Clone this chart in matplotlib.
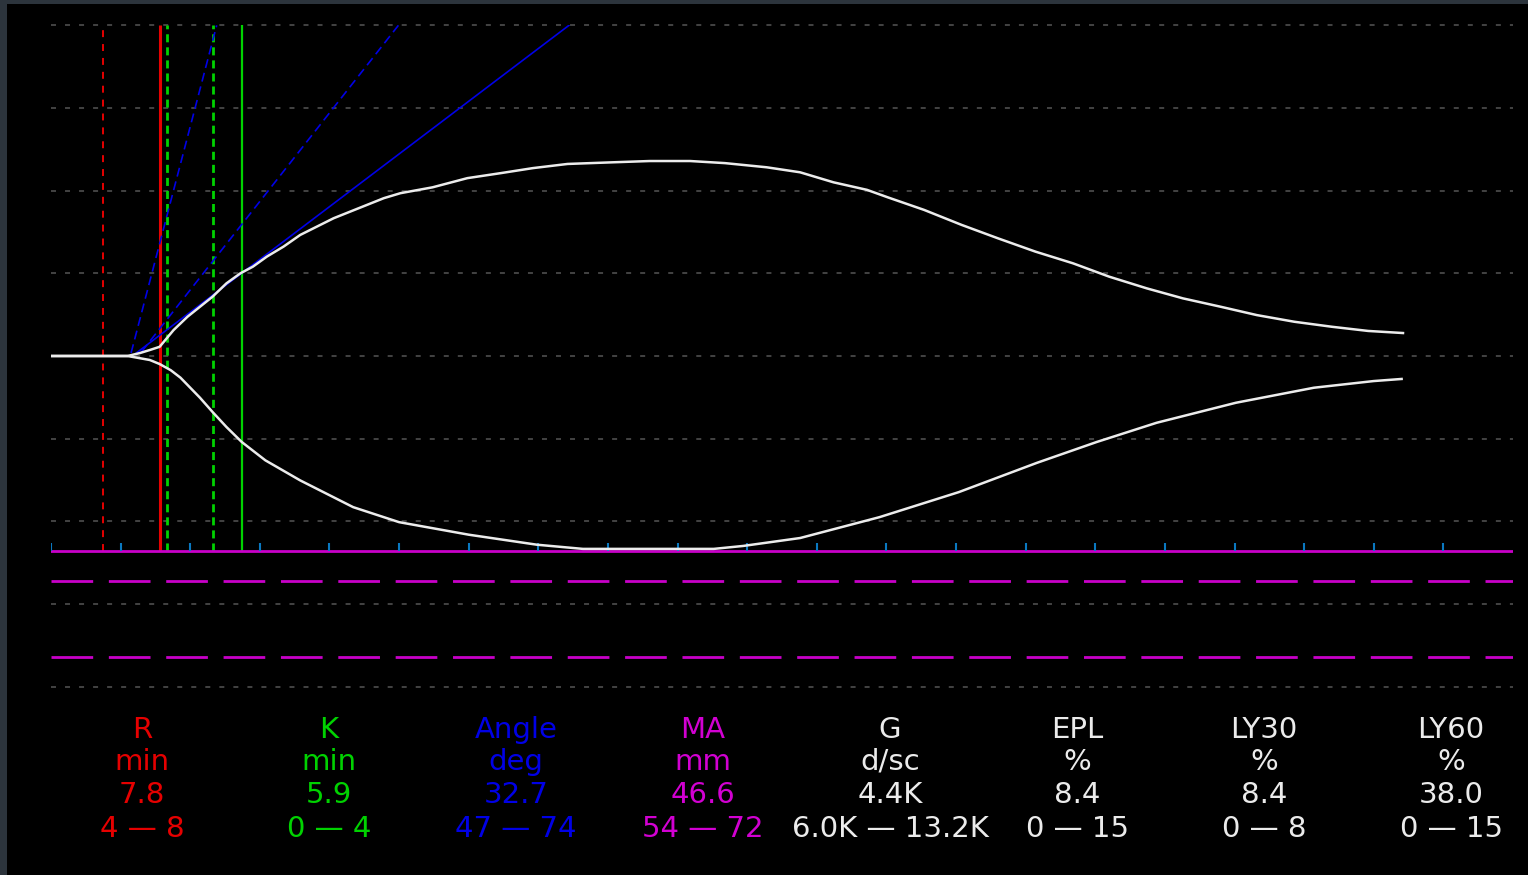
import numpy as np
import matplotlib.pyplot as plt
from matplotlib.patches import Rectangle

plt.rcParams['lines.scale_dashes'] = False

# tracing: time (min) and half amplitude (mm), upper and lower branch
up_t = [0, 5.5, 6.4, 7.1, 7.8, 8.8, 9.8, 10.7, 11.6, 12.6, 13.6, 14.5, 15.5, 16.7, 17.9,
        19.1, 20.3, 21.5, 22.7, 23.9, 25.1, 27.4, 29.9, 32.3, 34.6, 37.1, 40.4, 43.0,
        45.9, 48.4, 51.4, 53.8, 56.2, 58.6, 60.1, 62.7, 65.4, 68.0, 70.7, 73.4, 76.0,
        78.7, 81.3, 84.0, 86.6, 89.3, 92.0, 94.6, 97.1]
up_a = [0, 0, 0.36, 0.72, 1.1, 3.1, 4.7, 5.9, 7.1, 8.7, 9.9, 10.7, 11.9, 13.1, 14.5,
        15.5, 16.5, 17.3, 18.1, 18.9, 19.5, 20.2, 21.3, 21.9, 22.5, 23.0, 23.2, 23.35,
        23.35, 23.1, 22.6, 22.0, 20.8, 19.9, 19.0, 17.5, 15.7, 14.1, 12.5, 11.1, 9.5,
        8.1, 6.9, 5.9, 4.9, 4.1, 3.5, 3.0, 2.75]
lo_t = [0, 5.5, 7.1, 7.8, 8.6, 9.3, 10.0, 10.7, 11.6, 12.6, 13.7, 15.4, 17.9, 21.7,
        25.0, 30.0, 34.9, 38.2, 47.6, 49.7, 53.8, 59.5, 65.2, 70.8, 75.1, 79.4, 85.1,
        90.7, 95.0, 97.0]
lo_a = [0, 0, 0.48, 0.96, 1.7, 2.6, 3.8, 5.0, 6.7, 8.5, 10.3, 12.5, 14.9, 18.1,
        19.9, 21.4, 22.6, 23.1, 23.1, 22.75, 21.8, 19.3, 16.3, 12.8, 10.3, 8.0, 5.6,
        3.8, 3.0, 2.75]

# results
R = 7.8
K = 5.9
MA = 46.6
ma_range = [54, 72]
r_dashed = [3.7]
k_dashed = [8.3, 11.6]

# angle lines: [times], [amplitudes]
angle_solid = [[6.0, 37.2], [0.2, 39.6]]
angle_dash1 = [[5.75, 11.9], [0.36, 39.6]]
angle_dash2 = [[6.5, 24.95], [0.5, 39.6]]

names = ['R', 'K', 'Angle', 'MA', 'G', 'EPL', 'LY30', 'LY60']
units = ['min', 'min', 'deg', 'mm', 'd/sc', '%', '%', '%']
values = ['7.8', '5.9', '32.7', '46.6', '4.4K', '8.4', '8.4', '38.0']
ranges = ['4 — 8', '0 — 4', '47 — 74', '54 — 72', '6.0K — 13.2K', '0 — 15', '0 — 8', '0 — 15']
colors = ['#e60000', '#00d200', '#0000e6', '#d200d2', '#ebebeb', '#ebebeb', '#ebebeb', '#ebebeb']

grid_mm = [39.6, 29.7, 19.8, 9.9, 0, -9.9, -19.8, -29.7, -39.6]
ticks_min = np.arange(0, 101, 5)

W, H = 1528, 875
fig = plt.figure(figsize=(W / 100, H / 100), dpi=100, facecolor='#2c343c')
fig.patches.append(Rectangle((7 / W, 0), 1, 1 - 4 / H, transform=fig.transFigure,
                             facecolor='black', edgecolor='none', zorder=-5))

top = 39.6
bottom = -40.5
ax = fig.add_axes([51 / W, 1 - (356 - bottom * 8.35) / H, 1462 / W, (top - bottom) * 8.35 / H])
ax.set_zorder(2)
ax.set_facecolor('black')
ax.set_xlim(0, 105)
ax.set_ylim(bottom, top)
ax.axis('off')

for g in grid_mm:
    ax.axhline(g, color='#555555', lw=1.1, ls=(0, (3.6, 6.5)), clip_on=False, zorder=1)

base = -MA / 2
for v in r_dashed:
    ax.vlines(v, base, top, color='#e60000', lw=1.4, ls=(0, (5, 5)), zorder=2)
ax.vlines(R, base, top, color='#e60000', lw=2.2, zorder=2)
for v in k_dashed:
    ax.vlines(v, base, top, color='#00d200', lw=2.0, ls=(0, (5.8, 3.6)), zorder=2)
ax.vlines(R + K, base, top, color='#00d200', lw=1.6, zorder=2)

ax.plot(angle_solid[0], angle_solid[1], color='#0000e6', lw=1.2, zorder=3)
ax.plot(angle_dash1[0], angle_dash1[1], color='#0000e6', lw=1.2, ls=(0, (6.5, 3.6)), zorder=3)
ax.plot(angle_dash2[0], angle_dash2[1], color='#0000e6', lw=1.2, ls=(0, (6.5, 3.6)), zorder=3)

ax.axhline(base, color='#c800c8', lw=2.0, zorder=3)
for m in ma_range:
    ax.axhline(-m / 2, color='#c800c8', lw=2.0, ls=(0, (30, 11.3)), zorder=3)
ax.vlines(ticks_min, base, base + 0.9, color='#0a78c0', lw=1.5, zorder=3)

ax.plot(up_t, up_a, color='#ececec', lw=1.8, zorder=4)
ax.plot(lo_t, -np.array(lo_a), color='#ececec', lw=1.8, zorder=4)

rows = [names, units, values, ranges]
baselines = [738, 770, 803, 837]
for i in range(len(names)):
    cx = (142 + 187 * i) / W
    for row, yb in zip(rows, baselines):
        fig.text(cx, 1 - yb / H, row[i], color=colors[i], fontsize=21,
                 ha='center', va='baseline', family='DejaVu Sans')

fig.savefig('out.png', dpi=100, facecolor=fig.get_facecolor())
